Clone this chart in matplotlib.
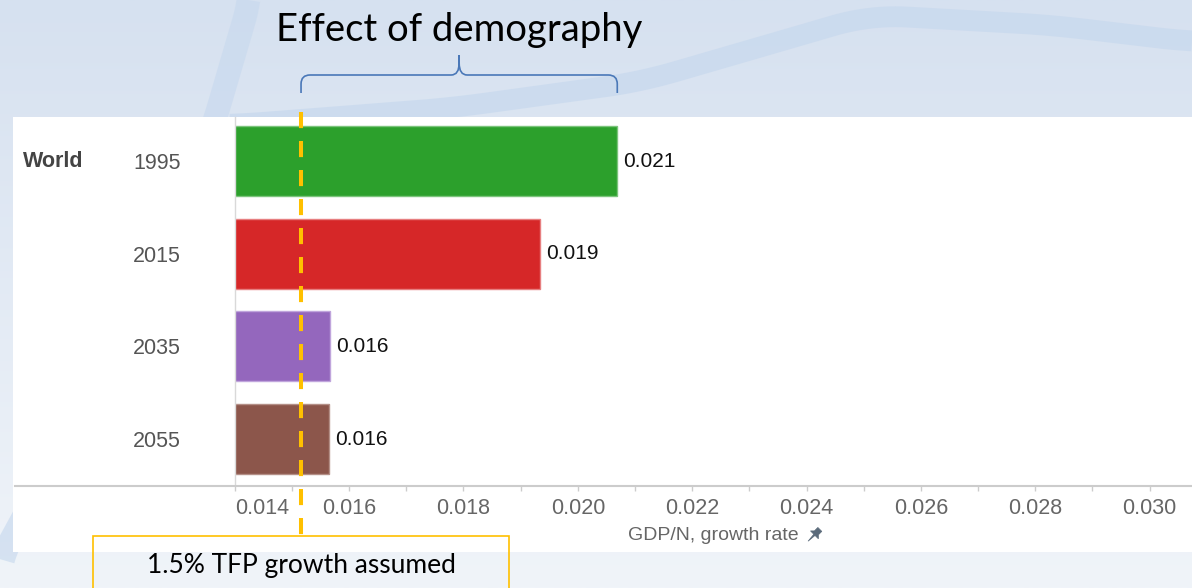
import numpy as np
import matplotlib
matplotlib.use("Agg")
import matplotlib.pyplot as plt
from matplotlib.patches import Rectangle, PathPatch, Polygon
from matplotlib.path import Path
from matplotlib.lines import Line2D
import matplotlib.transforms as mtransforms
from matplotlib.offsetbox import DrawingArea, AnnotationBbox

# ---------------- data ----------------
region = "World"
years = ["1995", "2015", "2035", "2055"]
growth = [0.02069, 0.01934, 0.01567, 0.01565]
bar_colors = ["#2ca02c", "#d62728", "#9467bd", "#8c564b"]
edge_colors = ["#7cc47c", "#e77f80", "#c0a5dc", "#b48f87"]
tfp_growth = 0.01516
x_major = [0.014, 0.016, 0.018, 0.020, 0.022, 0.024, 0.026, 0.028, 0.030]
x_major_labels = ["0.014", "0.016", "0.018", "0.020", "0.022", "0.024", "0.026", "0.028", "0.030"]
x_minor = [0.015, 0.017, 0.019, 0.021, 0.023, 0.025, 0.027, 0.029]
x_limits = (0.014, 0.03074)
title_text = "Effect of demography"
tfp_text = "1.5% TFP growth assumed"
x_label = "GDP/N, growth rate"

plt.rcParams["font.family"] = ["Liberation Sans", "DejaVu Sans"]

# ---------------- figure ----------------
W, H = 1192, 588
fig = plt.figure(figsize=(W / 100, H / 100), dpi=100)

def fx(px):
    return px / W

def fy(py):
    return 1 - py / H

def smooth(xk, yk, n=400, k=31):
    xs = np.linspace(xk[0], xk[-1], n)
    ys = np.interp(xs, xk, yk)
    ys = np.convolve(np.pad(ys, k // 2, mode="edge"), np.ones(k) / k, mode="valid")
    return xs, ys

# background (slide)
bg = fig.add_axes([0, 0, 1, 1], zorder=-10)
bg.set_axis_off()
bg.set_xlim(0, 1)
bg.set_ylim(0, 1)
top = np.array([0xd6, 0xe1, 0xf0]) / 255
bot = np.array([0xf0, 0xf4, 0xf9]) / 255
t = np.linspace(0, 1, 256)[:, None]
grad = (top[None, :] * (1 - t) + bot[None, :] * t)[:, None, :]
bg.imshow(grad, extent=[0, 1, 0, 1], aspect="auto", origin="upper", zorder=0)
# decorative swooshes
xs, ys = smooth(np.array([230, 450, 640, 870, 1050, 1192]), np.array([125, 108, 82, 15, 25, 42]))
bg.plot(fx(xs), fy(ys), color="#c8d9ee", lw=15, alpha=0.75, solid_capstyle="butt", zorder=1)
ys2, xs2 = smooth(np.array([0, 120, 300, 450, 560]), np.array([250, 215, 150, 60, 0]))
bg.plot(fx(xs2), fy(ys2), color="#c8d9ee", lw=17, alpha=0.65, solid_capstyle="butt", zorder=1)

# white panel
fig.add_artist(Rectangle((fx(13), fy(552)), fx(1192 - 13), (552 - 117) / H,
                         transform=fig.transFigure, facecolor="white",
                         edgecolor="none", zorder=-5))

# main axes
ax = fig.add_axes([fx(234.7), fy(485), fx(1192 - 234.7), (485 - 117) / H], zorder=1)
ax.patch.set_alpha(0)
ypos = np.arange(len(years))
ax.barh(ypos, growth, height=0.755, color=bar_colors, edgecolor=edge_colors,
        linewidth=1.0, zorder=2)
ax.set_xlim(*x_limits)
ax.set_ylim(3.496, -0.475)

for s in ["top", "right", "bottom"]:
    ax.spines[s].set_visible(False)
ax.spines["left"].set_color("#d9d9d9")
ax.spines["left"].set_linewidth(1.0)

ax.set_xticks(x_major)
ax.set_xticklabels(x_major_labels)
ax.set_xticks(x_minor, minor=True)
ax.tick_params(axis="x", which="both", length=4.5, width=1.0, color="#cccccc",
               direction="out", labelsize=15.5, labelcolor="#666666", pad=4.5)
lbls = ax.get_xticklabels()
lbls[0].set_horizontalalignment("left")

ax.set_yticks(ypos)
ax.set_yticklabels(years)
ax.tick_params(axis="y", length=0, pad=38.5, labelsize=15.5, labelcolor="#555555")

# bottom axis line extending across panel
fig.add_artist(Line2D([fx(15), 1.0], [fy(485.5), fy(485.5)], transform=fig.transFigure,
                      color="#cccccc", lw=1.5, zorder=3))

# region label
ax.text(fx(23), 0, region, transform=mtransforms.blended_transform_factory(fig.transFigure, ax.transData),
        ha="left", va="center", fontsize=15.5, fontweight="bold", color="#444444")

# value labels
for i, v in enumerate(growth):
    ax.annotate(f"{v:.3f}", xy=(v, i), xytext=(4.5, 0), textcoords="offset points",
                ha="left", va="center", fontsize=15, color="#111111", zorder=4)

# x label with pin
ax.set_xlabel(x_label, fontsize=14, color="#666666", labelpad=6)
da = DrawingArea(14, 14, 0, 0)
ang = np.deg2rad(-45)
rot = np.array([[np.cos(ang), -np.sin(ang)], [np.sin(ang), np.cos(ang)]])
head = np.array([[-2, 6], [2, 6], [2, 2.5], [4, 0.5], [-4, 0.5], [-2, 2.5]])
needle = np.array([[-0.6, 0.5], [0.6, 0.5], [0, -6]])
for shp in (head, needle):
    p = shp @ rot.T + np.array([7, 7])
    da.add_artist(Polygon(p, closed=True, facecolor="#5b6b7b", edgecolor="#5b6b7b", lw=0.5))
ab = AnnotationBbox(da, (1, 0.5), xycoords=ax.xaxis.label, xybox=(4, 0),
                    boxcoords="offset points", box_alignment=(0, 0.5), frameon=False)
ax.add_artist(ab)

# TFP dashed line
blend = mtransforms.blended_transform_factory(ax.transData, fig.transFigure)
ax.plot([tfp_growth, tfp_growth], [fy(112), fy(536)], transform=blend, color="#FFC000",
        lw=2.9, dashes=(4.0, 3.2), clip_on=False, zorder=5)

# pixel positions from data
x_tfp = ax.transData.transform((tfp_growth, 0))[0]
x_top = ax.transData.transform((growth[0], 0))[0]
x_mid = (x_tfp + x_top) / 2

# brace
def P(x, y):
    return (fx(x), fy(y))

verts = [P(x_tfp, 93), P(x_tfp, 84), P(x_tfp, 75), P(x_tfp + 9, 75),
         P(x_mid - 8, 75), P(x_mid, 75), P(x_mid, 63), P(x_mid, 55),
         P(x_mid, 55), P(x_mid, 63), P(x_mid, 75), P(x_mid + 8, 75),
         P(x_top - 9, 75), P(x_top, 75), P(x_top, 84), P(x_top, 93)]
codes = [Path.MOVETO, Path.LINETO, Path.CURVE3, Path.CURVE3,
         Path.LINETO, Path.CURVE3, Path.CURVE3, Path.LINETO,
         Path.MOVETO, Path.LINETO, Path.CURVE3, Path.CURVE3,
         Path.LINETO, Path.CURVE3, Path.CURVE3, Path.LINETO]
fig.add_artist(PathPatch(Path(verts, codes), transform=fig.transFigure, facecolor="none",
                         edgecolor="#4a78b8", lw=1.2, zorder=6))

# title
fig.text(fx(x_mid), fy(30), title_text, ha="center", va="center", fontsize=27.5,
         family="Lato", color="black")

# TFP box
fig.add_artist(Rectangle((fx(x_tfp - 208), fy(600)), fx(416), (600 - 536) / H,
                         transform=fig.transFigure, facecolor="none", edgecolor="#FFC000",
                         lw=1.2, clip_on=False, zorder=6))
fig.text(fx(x_tfp), fy(565), tfp_text, ha="center", va="center", fontsize=19,
         family="Lato", color="black")

fig.savefig("out.png", dpi=100)
